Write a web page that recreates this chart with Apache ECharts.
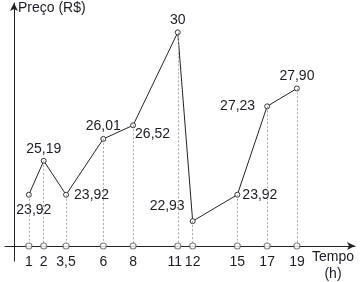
<!DOCTYPE html>
<html><head><meta charset="utf-8">
<script src="https://cdn.jsdelivr.net/npm/echarts@6/dist/echarts.min.js"></script>
<style>html,body{margin:0;padding:0;background:#fff}#c{width:360px;height:282px}</style>
</head><body><div id="c"></div>
<script>
const hours = [1, 2, 3.5, 6, 8, 11, 12, 15, 17, 19];
const hourLabels = ['1', '2', '3,5', '6', '8', '11', '12', '15', '17', '19'];
const prices = [23.92, 25.19, 23.92, 26.01, 26.52, 30, 22.93, 23.92, 27.23, 27.90];
const priceLabels = ['23,92', '25,19', '23,92', '26,01', '26,52', '30', '22,93', '23,92', '27,23', '27,90'];
const yBase = 22;

const labelStyles = [
  {position: 'bottom', distance: 3, offset: [5, 2]},
  {position: 'top', distance: 2},
  {position: 'right', distance: 5},
  {position: 'top', distance: 3},
  {position: 'right', distance: 0, offset: [-1, 9]},
  {position: 'top', distance: 2},
  {position: 'left', distance: 5, offset: [0, -15]},
  {position: 'right', distance: 2},
  {position: 'left', distance: 9},
  {position: 'top', distance: 2}
];
const txt = '#1c1c24';
const font = 'Liberation Sans, Arial, sans-serif';

const chart = echarts.init(document.getElementById('c'), null, {renderer: 'canvas'});
chart.setOption({
  animation: false,
  grid: [
    {left: 5, right: 5, top: 3, bottom: 36},
    {left: 14, width: 10, top: 3, bottom: 21}
  ],
  xAxis: [
    {gridIndex: 0, type: 'value', min: -0.6, max: 22.9,
      axisLine: {show: true, onZero: false, symbol: ['none', 'arrow'], symbolSize: [6, 8], lineStyle: {color: '#222', width: 1}},
      axisTick: {show: false}, splitLine: {show: false},
      axisLabel: {customValues: hours, margin: 9, color: txt, fontSize: 14, fontFamily: font,
        formatter: v => {
          const s = hourLabels[hours.indexOf(v)];
          return v === 11 ? '{l|' + s + '}' : s;
        },
        rich: {l: {color: txt, fontSize: 14, fontFamily: font, padding: [0, 6, 0, 0]}}}},
    {gridIndex: 1, type: 'value', min: 0, max: 1, show: false}
  ],
  yAxis: [
    {gridIndex: 0, type: 'value', min: 22, max: 31.1, show: false},
    {gridIndex: 1, type: 'value', min: 0, max: 1,
      axisLine: {show: true, onZero: false, symbol: ['none', 'arrow'], symbolSize: [6, 8], lineStyle: {color: '#222', width: 1}},
      axisTick: {show: false}, axisLabel: {show: false}, splitLine: {show: false}}
  ],
  graphic: [
    {type: 'text', left: 18, top: 1, style: {text: 'Preço (R$)', fill: txt, font: '14px ' + font}},
    {type: 'text', x: 333, y: 249, style: {text: 'Tempo\n(h)', fill: txt, font: '14px ' + font, align: 'center', lineHeight: 17}}
  ],
  series: [
    {type: 'line', xAxisIndex: 0, yAxisIndex: 0, z: 3,
      data: hours.map((h, i) => ({value: [h, prices[i]], label: labelStyles[i]})),
      symbol: 'circle', symbolSize: 5,
      itemStyle: {color: '#fff', borderColor: '#333', borderWidth: 1},
      lineStyle: {color: '#222', width: 1},
      label: {show: true, color: txt, fontSize: 14, fontFamily: font,
        formatter: p => priceLabels[p.dataIndex]},
      markLine: {silent: true, symbol: 'none', animation: false, label: {show: false},
        lineStyle: {color: '#aaa', type: [2, 2], width: 1},
        data: hours.map((h, i) => [{coord: [h, prices[i]]}, {coord: [h, yBase]}])}
    },
    {type: 'scatter', xAxisIndex: 0, yAxisIndex: 0, z: 5,
      data: hours.map(h => [h, yBase]),
      symbol: 'circle', symbolSize: 6,
      itemStyle: {color: '#fff', borderColor: '#666', borderWidth: 1.2}}
  ]
});
</script></body></html>
